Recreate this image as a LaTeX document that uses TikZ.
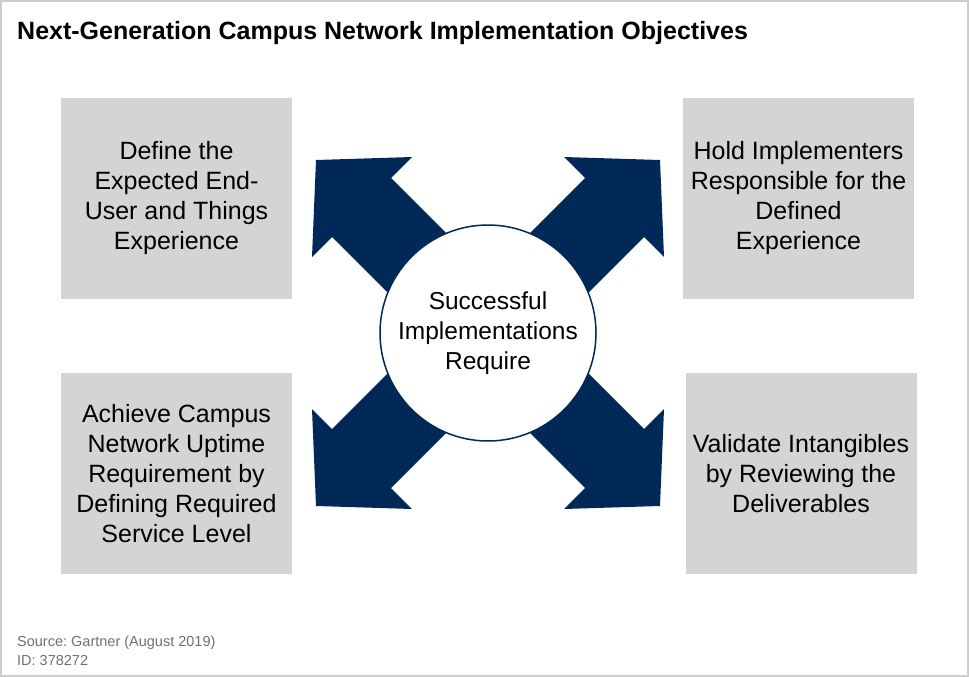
\documentclass[tikz,border=0pt]{standalone}
\usepackage{fontspec}
\setmainfont{Liberation Sans}
\usetikzlibrary{positioning}
\frenchspacing
\definecolor{navy}{RGB}{0,41,87}
\definecolor{boxgray}{RGB}{212,212,212}
\definecolor{srcgray}{RGB}{112,112,112}
\tikzset{box/.style={fill=boxgray,align=center,minimum width=231pt,minimum height=201pt,inner sep=0pt,font=\fontsize{25}{30}\selectfont},
  hubnode/.style={circle,draw=navy,line width=1.5pt,fill=white,minimum size=216pt,inner sep=0pt,align=center,font=\fontsize{24.5}{30}\selectfont}}

\begin{document}
\begin{tikzpicture}[x=1pt,y=-1pt]
\useasboundingbox(0,0)rectangle(969,677);
\draw[black!20,line width=2pt](1,1)rectangle(968,676);
\node[anchor=base west,inner sep=0pt,font=\fontsize{25}{30}\selectfont\bfseries](title)at(17,40){Next-Generation Campus Network Implementation Objectives};
\node[box](tl)at(176.5,198.5){Define the\\Expected End-\\User and Things\\Experience};
\node[box](tr)at(798.5,198.5){Hold Implementers\\Responsible for the\\Defined\\Experience};
\node[box](bl)at(176.5,473.5){Achieve Campus\\Network Uptime\\Requirement by\\Defining Required\\Service Level};
\node[box](br)at(801,473.5){Validate Intangibles\\by Reviewing the\\Deliverables};
\coordinate(c)at(488,333);
% four arrows, mirrored around the hub
\foreach\sx/\sy in{1/1,-1/1,1/-1,-1/-1}
  \fill[navy,shift={(c)},xscale=\sx,yscale=\sy](-172,-173)--(-76,-176)--(-97,-155)--(52,-6)--(-58,2)--(-156,-96)--(-176,-76)--cycle;
\node[hubnode](hub)at(c){Successful\\Implementations\\Require};
\node[anchor=base west,text=srcgray,font=\fontsize{14.5}{19}\selectfont,inner sep=0pt](src)at(17,646){Source: Gartner (August 2019)};
\node[anchor=base west,text=srcgray,font=\fontsize{14.5}{19}\selectfont,inner sep=0pt](id)at(17,665){ID: 378272};
\end{tikzpicture}
\end{document}
